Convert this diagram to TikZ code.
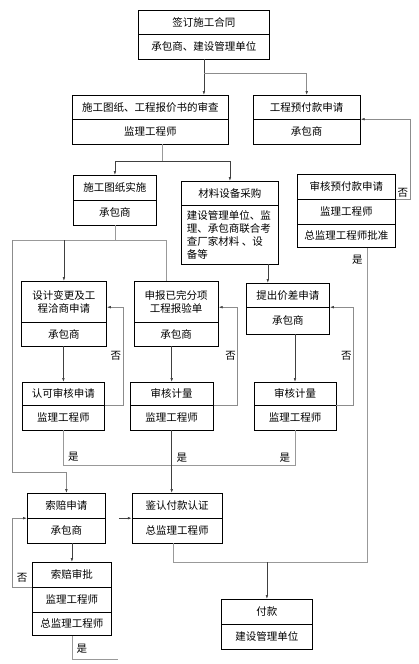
\documentclass[tikz,border=0pt]{standalone}
\usepackage{fontspec}
\newfontfamily\cjk{Noto Sans CJK SC}
\usetikzlibrary{shapes.multipart, positioning, arrows.meta}
\newcommand{\bxpart}[3]{\parbox[c][#2pt][c]{#1pt}{\centering #3}}

\begin{document}
\begin{tikzpicture}[x=1pt, y=-1pt,
    bx/.style={rectangle split, rectangle split parts=#1, draw, line width=0.8pt,
        inner sep=0pt, anchor=north west, font=\cjk\fontsize{10.5}{13}\selectfont},
    bx/.default=2,
    ar/.style={-{Latex[length=4pt, width=2.6pt]}, draw=black!75, line width=0.6pt},
    ln/.style={draw=black!40, line width=0.6pt},
    fb/.style={-{Latex[length=4pt, width=2.6pt, color=black!75]}, draw=black!45, line width=0.6pt},
    lb/.style={font=\cjk\fontsize{10.5}{12}\selectfont, inner sep=1.5pt}]
\useasboundingbox (0,0) rectangle (419,664);
% boxes
\node[bx] (Sg) at (138,10) {\bxpart{131}{23}{签订施工合同}\nodepart{two}\bxpart{131}{24}{承包商、建设管理单位}};
\node[bx] (Rv) at (72,95) {\bxpart{156}{23}{施工图纸、工程报价书的审查}\nodepart{two}\bxpart{156}{24}{监理工程师}};
\node[bx, right=24pt of Rv] (Ad) {\bxpart{107}{23}{工程预付款申请}\nodepart{two}\bxpart{107}{24}{承包商}};
\node[bx] (Im) at (73,175) {\bxpart{83}{24}{施工图纸实施}\nodepart{two}\bxpart{83}{24}{承包商}};
\node[bx] (Mt) at (181,181) {\bxpart{97}{23}{材料设备采购}\nodepart{two}\bxpart{97}{58}{\parbox{86pt}{\raggedright 建设管理单位、监\\理、承包商联合考\\查厂家材料 、设\\备等}}};
\node[bx=3] (Ak) at (297,174) {\bxpart{98}{24}{审核预付款申请}\nodepart{two}\bxpart{98}{24}{监理工程师}\nodepart{three}\bxpart{98}{23}{总监理工程师批准}};
\node[bx] (Ch) at (21,281) {\bxpart{85}{40}{设计变更及工\\程洽商申请}\nodepart{two}\bxpart{85}{23}{承包商}};
\node[bx, right=27pt of Ch] (Dn) {\bxpart{84}{40}{申报已完分项\\工程报验单}\nodepart{two}\bxpart{84}{23}{承包商}};
\node[bx] (Df) at (246,283) {\bxpart{83}{23}{提出价差申请}\nodepart{two}\bxpart{83}{26}{承包商}};
\node[bx] (Ck) at (22,382) {\bxpart{82}{22}{认可审核申请}\nodepart{two}\bxpart{82}{24}{监理工程师}};
\node[bx, right=25pt of Ck] (Ms) {\bxpart{83}{22}{审核计量}\nodepart{two}\bxpart{83}{24}{监理工程师}};
\node[bx, right=40pt of Ms] (Mp) {\bxpart{82}{22}{审核计量}\nodepart{two}\bxpart{82}{24}{监理工程师}};
\node[bx] (Cl) at (27,493) {\bxpart{78}{24}{索赔申请}\nodepart{two}\bxpart{78}{24}{承包商}};
\node[bx, right=26pt of Cl] (Ce) {\bxpart{90}{24}{鉴认付款认证}\nodepart{two}\bxpart{90}{24}{总监理工程师}};
\node[bx=3] (Ca) at (32,562) {\bxpart{79}{24}{索赔审批}\nodepart{two}\bxpart{79}{24}{监理工程师}\nodepart{three}\bxpart{79}{23}{总监理工程师}};
\node[bx] (Py) at (221,599) {\bxpart{91}{24}{付款}\nodepart{two}\bxpart{91}{24}{建设管理单位}};
% top part
\draw[ar] (Sg.south) -- (Sg.south |- Rv.north);
\draw[fb] (Sg.south |- 0,73) -| (Ad.north);
\coordinate (r1) at (162,161);
\draw[ln] (Rv.south -| r1) -- (r1);
\draw[ar] (r1) -| (Im.north);
\draw[ar] (r1) -| (Mt.north);
\coordinate (i1) at (12,240);
\coordinate (i2) at (166,240);
\draw[ln] (Im.south) -- (Im.south |- i1);
\draw[ln] (i1) -- (i2) -- (i2 |- Dn.north);
\draw[ar] (Ch.north |- i1) -- (Ch.north);
\draw[fb] (i1) |- ([yshift=21pt]Cl.north) -- (Cl.north);
\coordinate (m1) at ([xshift=-11pt]Mt.south east);
\draw[ar] (m1) -- (m1 |- Df.north);
\draw[fb] (Ak.text split east) -- node[lb, above] {否} ++(14,0) |- (Ad.text split east);
% middle rows
\draw[ar] (Ck.north |- Ch.south) -- (Ck.north);
\draw[ar] (Ms.north |- Dn.south) -- (Ms.north);
\draw[ar] (Mp.north |- Df.south) -- (Mp.north);
\draw[fb] (Ck.text split east) -- ++(18,0) |- node[lb, pos=.25, left] {否} ([yshift=15pt]Ch.text split east);
\draw[fb] (Ms.text split east) -- ++(24,0) |- node[lb, pos=.25, left] {否} ([yshift=15pt]Dn.text split east);
\draw[fb] (Mp.text split east) -- ++(17,0) |- node[lb, pos=.25, left] {否} (Df.text split east);
\coordinate (y2) at (0,465);
\draw[ln] (Ck.south) -- node[lb, pos=.75, right=3pt] {是} (Ck.south |- y2) -- (Mp.south |- y2) -- node[lb, pos=.2, left=3pt] {是} (Mp.south);
\draw[ar] (Ms.south) -- node[lb, pos=.43, right=3pt] {是} (Ms.south |- Ce.north);
% bottom part
\coordinate (y1) at (0,562);
\coordinate (a1) at ([xshift=21pt]Ak.south);
\coordinate (c1) at ([xshift=-4pt]Ce.south);
\draw[ln] (a1) node[lb, below left=5pt and 3pt] {是} |- (c1 |- y1) -- (c1);
\draw[ar] (Py.north |- y1) -- (Py.north);
\coordinate[left=13pt of Ce.text split west] (e1);
\draw[ar] (e1) -- (Ce.text split west);
\draw[ar] (Ca.north |- Cl.south) -- (Ca.north);
\draw[fb] (Ca.text split west) -- node[lb, above=3pt] {否} ++(-20,0) |- (Cl.text split west);
\draw[ln] (Ca.south) -- node[lb, pos=.55, right=3pt] {是} ++(0,23) -- ++(46,0);
\end{tikzpicture}
\end{document}
